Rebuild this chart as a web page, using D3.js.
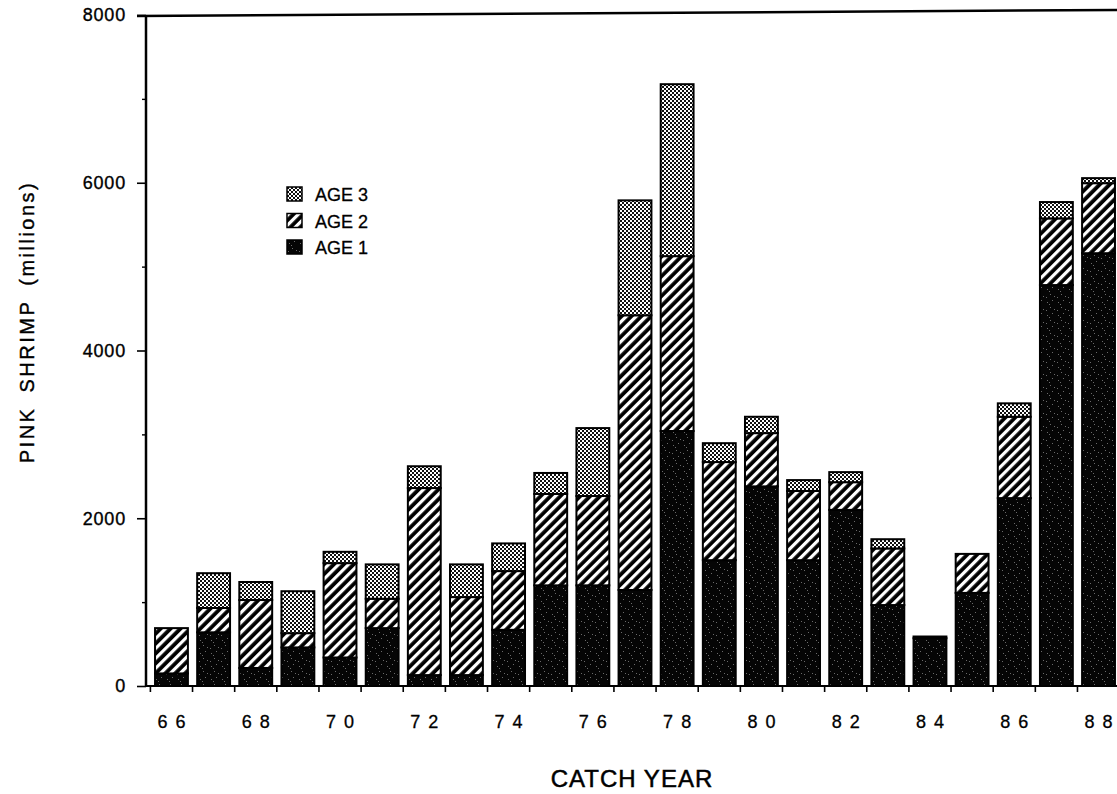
<!DOCTYPE html>
<html>
<head>
<meta charset="utf-8">
<script src="https://cdn.jsdelivr.net/npm/d3@7"></script>
<style>
  html, body { margin: 0; padding: 0; background: #fff; }
  svg { display: block; font-family: "Liberation Sans", Arial, sans-serif; }
</style>
</head>
<body>
<svg id="chart" width="1117" height="794"></svg>
<script>
// ---- data (millions of pink shrimp) ----
const years = ["66","67","68","69","70","71","72","73","74","75","76","77","78","79","80","81","82","83","84","85","86","87","88"];
const age1 = [150, 640, 215, 460, 340, 690, 130, 130, 670, 1200, 1200, 1145, 3040, 1500, 2380, 1500, 2100, 965, 570, 1110, 2240, 4780, 5160];
const age2 = [540, 290, 810, 170, 1125, 350, 2230, 930, 700, 1090, 1065, 3275, 2085, 1170, 635, 825, 330, 675, 0, 465, 970, 795, 835];
const age3 = [0, 415, 215, 500, 135, 410, 260, 390, 330, 250, 810, 1370, 2050, 225, 195, 130, 120, 110, 20, 0, 160, 195, 60];
const yMajorTicks = [0, 2000, 4000, 6000, 8000];
const yMinorTicks = [1000, 3000, 5000, 7000];
const xLabelYears = ["66","68","70","72","74","76","78","80","82","84","86","88"];
const seriesKeys = ["age1", "age2", "age3"];
const legendItems = [
  { key: "age3", label: "AGE 3" },
  { key: "age2", label: "AGE 2" },
  { key: "age1", label: "AGE 1" }
];

const rows = years.map((yr, i) => ({ year: yr, age1: age1[i], age2: age2[i], age3: age3[i] }));

const svg = d3.select("#chart");

// ---- patterns ----
const defs = svg.append("defs");
const p1 = defs.append("pattern").attr("id", "pat-age1").attr("patternUnits", "userSpaceOnUse")
  .attr("width", 11).attr("height", 13);
p1.append("rect").attr("width", 11).attr("height", 13).attr("fill", "#050505");
[[2,3],[7,1],[5,8],[9,10],[1,11],[4,5]].forEach(([px, py]) =>
  p1.append("rect").attr("x", px).attr("y", py).attr("width", 1).attr("height", 1).attr("fill", "#6a6a6a"));

const p2 = defs.append("pattern").attr("id", "pat-age2").attr("patternUnits", "userSpaceOnUse")
  .attr("width", 7).attr("height", 10).attr("patternTransform", "rotate(45)");
p2.append("rect").attr("width", 7).attr("height", 10).attr("fill", "#000");
p2.append("rect").attr("x", 0).attr("width", 3.2).attr("height", 10).attr("fill", "#fff");

const p3 = defs.append("pattern").attr("id", "pat-age3").attr("patternUnits", "userSpaceOnUse")
  .attr("width", 4).attr("height", 4);
p3.append("rect").attr("width", 4).attr("height", 4).attr("fill", "#fff");
p3.append("rect").attr("x", 0).attr("y", 0).attr("width", 2).attr("height", 2).attr("fill", "#111");
p3.append("rect").attr("x", 2).attr("y", 2).attr("width", 2).attr("height", 2).attr("fill", "#111");

const fills = { age1: "url(#pat-age1)", age2: "url(#pat-age2)", age3: "url(#pat-age3)" };

// ---- scales ----
const x = d3.scaleBand().domain(years).range([150.4, 1119.6]).paddingInner(0.22).paddingOuter(0.11);
const y = d3.scaleLinear().domain([0, 8000]).range([686, 15]);
const axisX0 = 146;

// ---- bars ----
const stack = d3.stack().keys(seriesKeys)(rows);
const layers = svg.append("g").selectAll("g").data(stack).join("g")
  .attr("fill", d => fills[d.key]);
layers.selectAll("rect")
  .data(d => d.filter(s => s[1] - s[0] > 0))
  .join("rect")
  .attr("x", d => x(d.data.year))
  .attr("width", x.bandwidth())
  .attr("y", d => y(d[1]))
  .attr("height", d => y(d[0]) - y(d[1]))
  .attr("stroke", "#000")
  .attr("stroke-width", 2);

// ---- axes ----
const yAxis = svg.append("g").attr("transform", `translate(${axisX0},0)`)
  .call(d3.axisLeft(y).tickValues(yMajorTicks).tickSize(9).tickSizeOuter(0).tickFormat(d3.format("d")));
yAxis.select(".domain").remove();
yAxis.selectAll(".tick line").attr("stroke", "#000").attr("stroke-width", 1.6);
yAxis.selectAll(".tick text")
  .attr("x", -20)
  .attr("font-size", 18)
  .attr("letter-spacing", 0.8)
  .attr("fill", "#000")
  .attr("stroke", "#000").attr("stroke-width", 0.35)
  .attr("font-family", "Liberation Sans, Arial, sans-serif");

const yMinor = svg.append("g").attr("transform", `translate(${axisX0},0)`)
  .call(d3.axisLeft(y).tickValues(yMinorTicks).tickSize(4).tickSizeOuter(0).tickFormat(""));
yMinor.select(".domain").remove();
yMinor.selectAll(".tick line").attr("stroke", "#000").attr("stroke-width", 1.4);

// axis lines + top frame
svg.append("line").attr("x1", axisX0).attr("x2", axisX0).attr("y1", y(8000)).attr("y2", y(0))
  .attr("stroke", "#000").attr("stroke-width", 2.5);
svg.append("line").attr("x1", axisX0 - 1).attr("x2", 1117).attr("y1", y(0)).attr("y2", y(0))
  .attr("stroke", "#000").attr("stroke-width", 2);
svg.append("line").attr("x1", axisX0 - 9).attr("x2", 1117).attr("y1", y(8000) + 1).attr("y2", y(8000) - 5)
  .attr("stroke", "#000").attr("stroke-width", 2.5);

// x ticks at band boundaries
const boundaries = years.map(yr => x(yr) - x.step() * x.paddingInner() / 2);
svg.append("g").selectAll("line").data(boundaries).join("line")
  .attr("x1", d => d).attr("x2", d => d)
  .attr("y1", y(0)).attr("y2", y(0) + 6)
  .attr("stroke", "#000").attr("stroke-width", 1.6);

// x labels (digits spaced apart)
const xl = svg.append("g").selectAll("text").data(xLabelYears).join("text")
  .attr("x", d => x(d) + x.bandwidth() / 2)
  .attr("y", 728)
  .attr("text-anchor", "middle")
  .attr("font-size", 18)
  .attr("fill", "#000")
  .attr("stroke", "#000").attr("stroke-width", 0.3);
xl.append("tspan").text(d => d[0]);
xl.append("tspan").attr("dx", 8).text(d => d[1]);

// axis titles
svg.append("text")
  .attr("x", 632).attr("y", 787)
  .attr("text-anchor", "middle")
  .attr("font-size", 24)
  .attr("letter-spacing", 1)
  .attr("fill", "#000")
  .attr("stroke", "#000").attr("stroke-width", 0.5)
  .text("CATCH YEAR");

const yt = svg.append("text")
  .attr("transform", "translate(34,322) rotate(-90)")
  .attr("text-anchor", "middle")
  .attr("font-size", 20)
  .attr("letter-spacing", 2.5)
  .attr("fill", "#000")
  .attr("stroke", "#000").attr("stroke-width", 0.4);
yt.append("tspan").text("PINK");
yt.append("tspan").attr("dx", 14).text("SHRIMP");
yt.append("tspan").attr("dx", 14).text("(millions)");

// legend
const lg = svg.append("g").attr("transform", "translate(287,187)");
const li = lg.selectAll("g").data(legendItems).join("g")
  .attr("transform", (d, i) => `translate(0,${i * 26.5})`);
li.append("rect").attr("width", 15).attr("height", 14)
  .attr("fill", d => fills[d.key]).attr("stroke", "#000").attr("stroke-width", 1.5);
li.append("text").attr("x", 28).attr("y", 14)
  .attr("font-size", 18).attr("fill", "#000")
  .attr("stroke", "#000").attr("stroke-width", 0.3)
  .text(d => d.label);
</script>
</body>
</html>
